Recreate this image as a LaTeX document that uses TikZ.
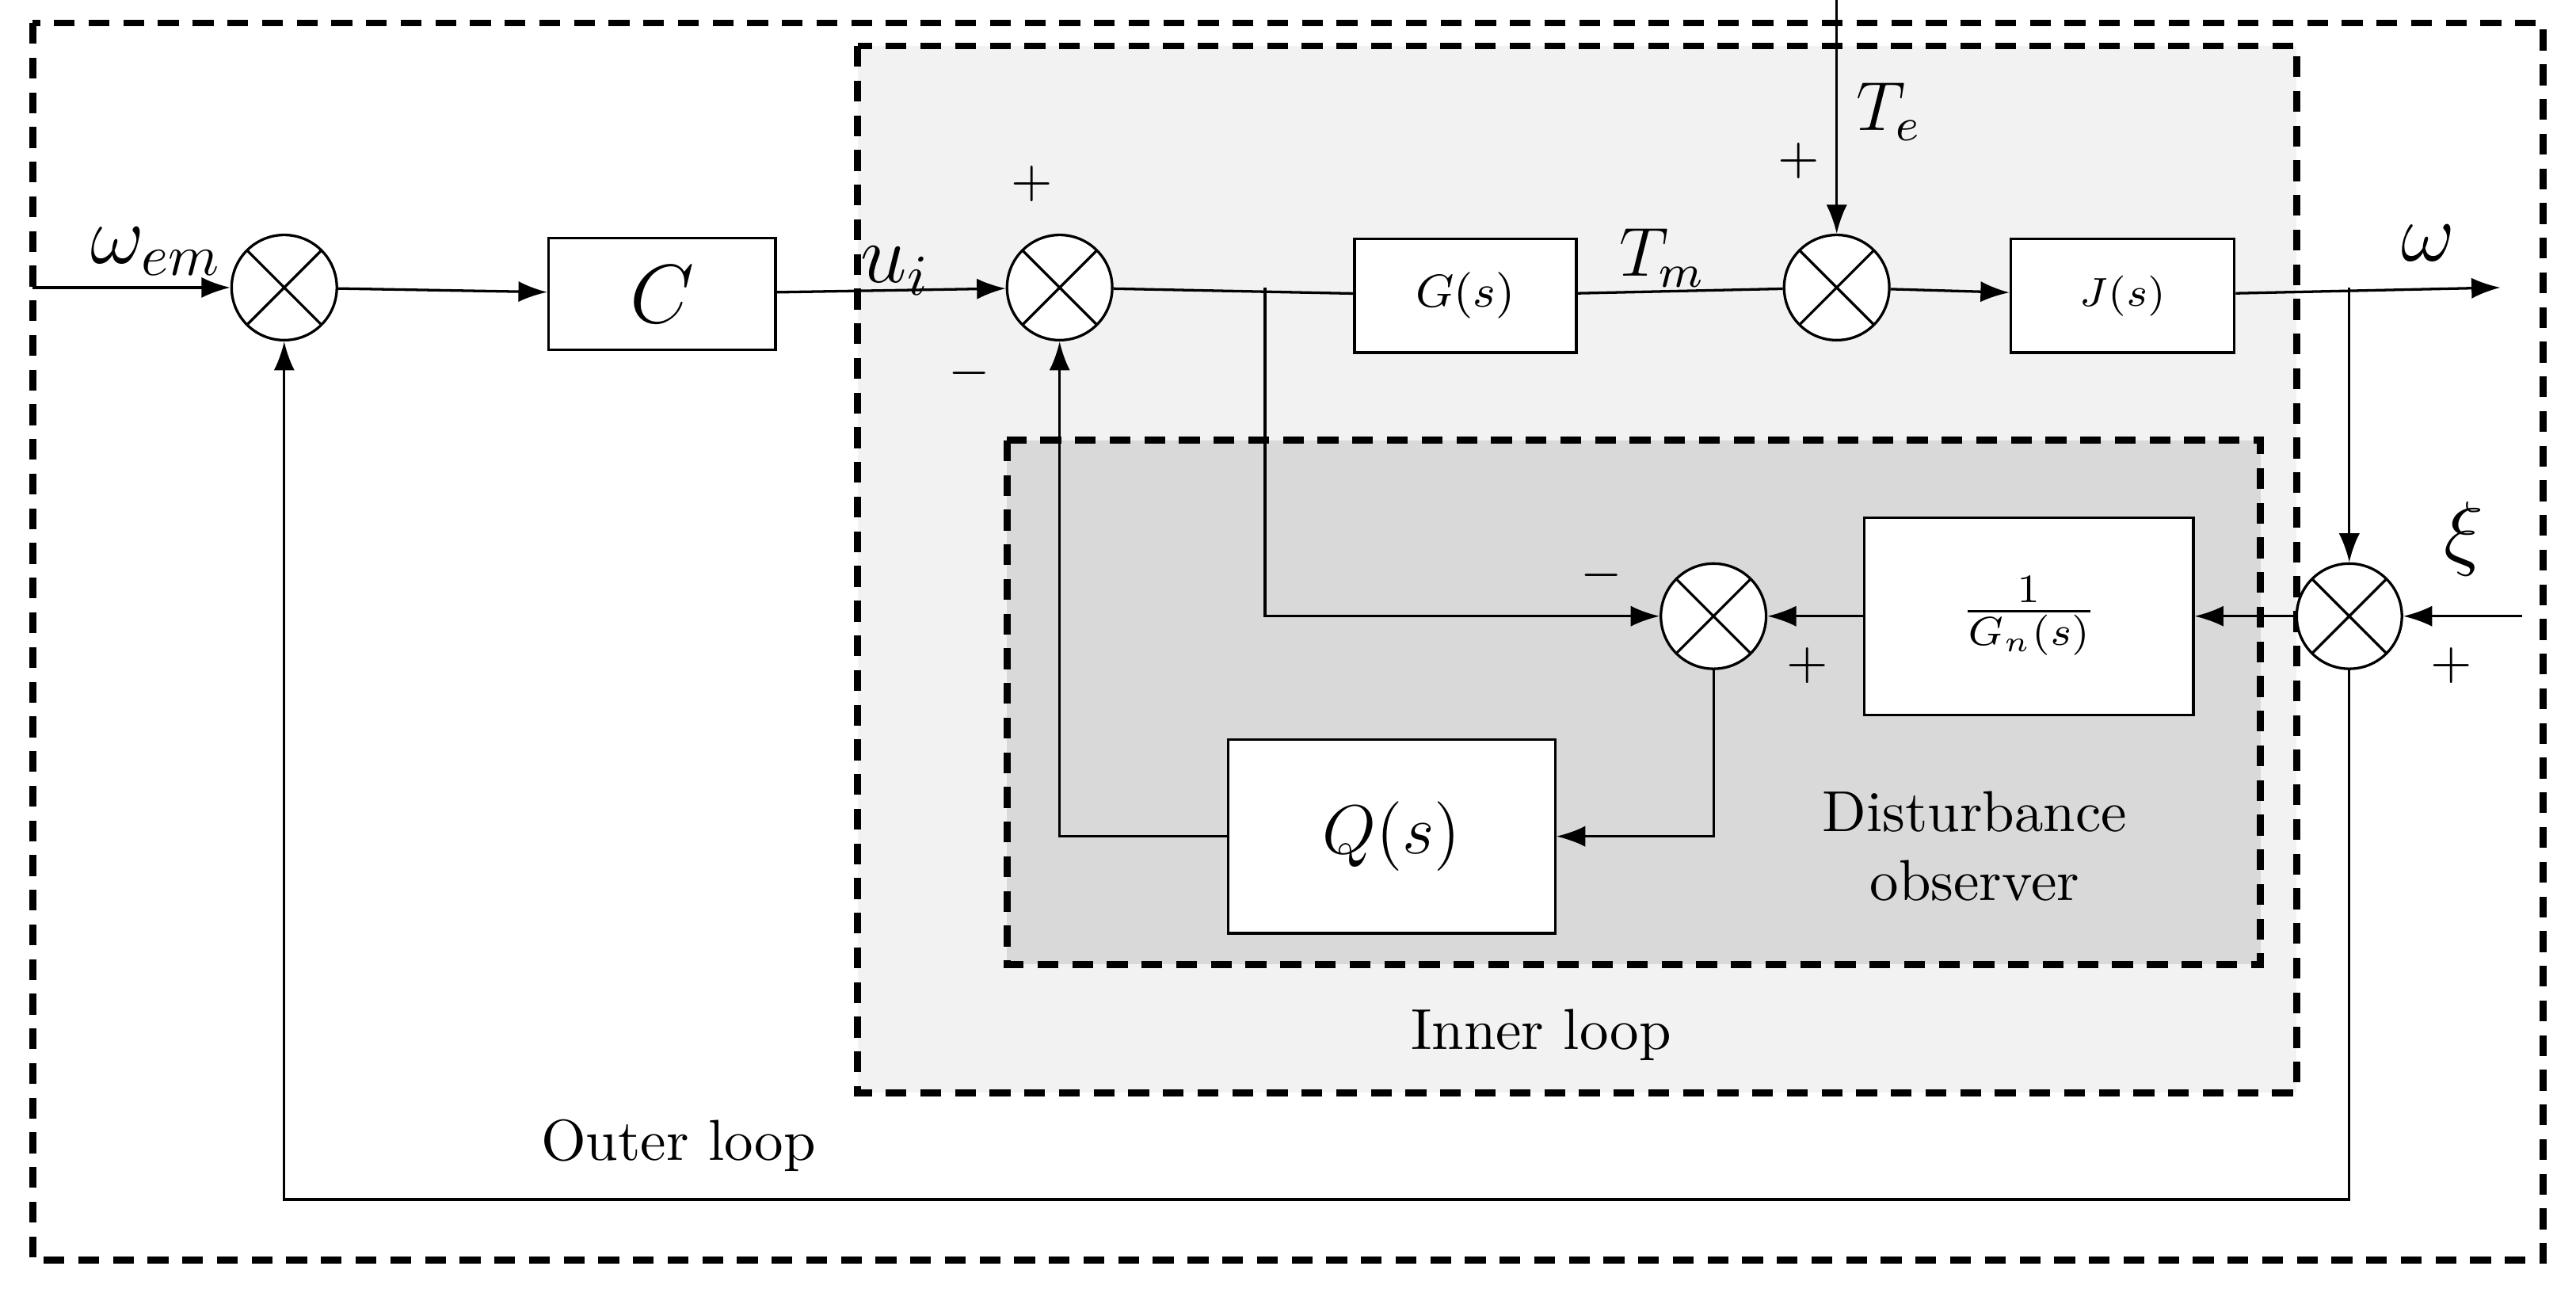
\documentclass[tikz,border=0pt]{standalone}
\usetikzlibrary{arrows.meta}
\begin{document}
\begin{tikzpicture}[x=0.01cm,y=-0.01cm,
  ln/.style={line width=0.45pt},
  arr/.style={ln,-{Latex[length=5pt,width=3.6pt]}},
  blk/.style={draw,ln,fill=white,inner sep=0pt},
  sumn/.style={draw,ln,circle,minimum size=0.64cm,fill=white,inner sep=0pt,
    path picture={\draw[ln] (path picture bounding box.north west)--(path picture bounding box.south east)
      (path picture bounding box.north east)--(path picture bounding box.south west);}},
  dsh/.style={line width=1.2pt,dash pattern=on 3.6pt off 2.4pt},
  lab/.style={font=\fontsize{10}{12}\selectfont},
  sg/.style={font=\fontsize{9}{10}\selectfont}]
\useasboundingbox (0,0) rectangle (1568,784);
\fill[white] (0,0) rectangle (1568,784);
\draw[dsh] (20,14) rectangle (1548,767);
\draw[dsh,fill={rgb,255:red,242;green,242;blue,242}] (522,28) rectangle (1398,665);
\draw[dsh,fill={rgb,255:red,217;green,217;blue,217}] (613,268) rectangle (1376,587);

\node[sumn] (s1) at (173,175) {};
\node[sumn] (s2) at (645,175) {};
\node[sumn] (s3) at (1118,175) {};
\node[sumn] (s4) at (1430,375) {};
\node[sumn] (s5) at (1043,375) {};
\node[blk,minimum width=1.38cm,minimum height=0.68cm] (C) at (403,179) {\Large$C$};
\node[blk,minimum width=1.35cm,minimum height=0.69cm] (G) at (892,180) {\footnotesize$G(s)$};
\node[blk,minimum width=1.36cm,minimum height=0.69cm] (J) at (1292,180) {\scriptsize$J(s)$};
\node[blk,minimum width=2.0cm,minimum height=1.2cm] (Gn) at (1235,375) {$\frac{1}{G_n(s)}$};
\node[blk,minimum width=1.99cm,minimum height=1.18cm] (Q) at (847,509) {\large$Q(s)$};

\coordinate (in) at (20,175);
\coordinate (out) at (1522,175);
\coordinate (te) at (1118,0);
\coordinate (xi) at (1535,375);
\coordinate (b1) at (770,175);
\coordinate (b2) at (1430,175);

\draw[arr] (in) -- (s1);
\draw[arr] (s1) -- (C);
\draw[arr] (C) -- (s2);
\draw[ln] (s2) -- (G);
\draw[ln] (G) -- (s3);
\draw[arr] (te) -- (s3);
\draw[arr] (s3) -- (J);
\draw[arr] (J) -- (out);
\draw[arr] (b2) -- (s4);
\draw[arr] (xi) -- (s4);
\draw[arr] (s4) -- (Gn);
\draw[arr] (Gn) -- (s5);
\draw[arr] (b1) |- (s5);
\draw[arr] (s5) |- (Q);
\draw[arr] (Q.west) -| (s2);
\draw[arr] (s4) |- (173,730) -- (s1);

\node[lab] at (95,153) {\Large$\omega_{em}$};
\node[lab] at (545,165) {\Large$u_i$};
\node[lab] at (1012,157) {\large$T_m$};
\node[lab] at (1150,68) {\large$T_e$};
\node[lab] at (1478,148) {\Large$\omega$};
\node[lab] at (1500,328) {\Large$\xi$};
\node[sg] at (628,112) {$+$};
\node[sg] at (590,227) {$-$};
\node[sg] at (1095,98) {$+$};
\node[sg] at (975,350) {$-$};
\node[sg] at (1100,405) {$+$};
\node[sg] at (1492,405) {$+$};
\node[lab,align=center] at (1202,515) {Disturbance\\observer};
\node[lab] at (938,630) {Inner loop};
\node[lab] at (413,697) {Outer loop};
\end{tikzpicture}
\end{document}
